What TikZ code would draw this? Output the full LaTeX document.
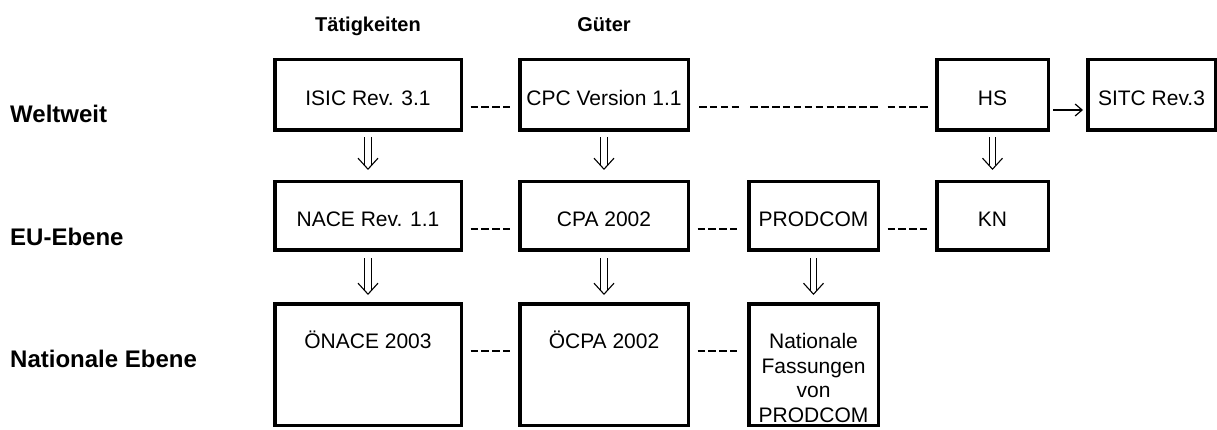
\documentclass[tikz,border=0pt]{standalone}
\usepackage{fontspec}
\setmainfont{Liberation Sans}
\usetikzlibrary{arrows.meta}
\begin{document}
\begin{tikzpicture}[x=1pt,y=-1pt,
  box/.style={draw, line width=3.5pt, inner sep=0pt, align=center,
    font=\fontsize{21}{24.5}\selectfont},
  rowA/.style={minimum height=70.5pt, text height=22pt, text depth=0pt},
  rowB/.style={minimum height=68.5pt, text height=22pt, text depth=0pt},
  rowC/.style={minimum height=121.5pt, text height=15pt, text depth=47pt},
  colA/.style={minimum width=186.5pt},
  colB/.style={minimum width=168.5pt},
  colC/.style={minimum width=129.5pt},
  colD/.style={minimum width=111.5pt},
  colE/.style={minimum width=127.5pt},
  hdr/.style={font=\bfseries\fontsize{20}{24}\selectfont, inner sep=0pt, anchor=base},
  rowlbl/.style={font=\bfseries\fontsize{24}{28}\selectfont, inner sep=0pt, anchor=base west},
  dl/.style={line width=2.2pt, dash pattern=on 7.5pt off 3.4pt},
  dshaft/.style={double, double distance=5.5pt, line width=1.1pt},
  dhead/.style={draw=white, line width=0.4pt,
    -{Straight Barb[black, line width=1.1pt, length=11pt, width=20pt]}},
  sgl/.style={line width=1.2pt, -{Straight Barb[length=7pt,width=12pt]}}
]
\useasboundingbox (0,0) rectangle (1217,430);

% headers
\node[hdr] (taet) at (368,32) {Tätigkeiten};
\node[hdr] (gueter) at (604,32) {Güter};

% row labels
\node[rowlbl] (welt) at (10,123) {Weltweit};
\node[rowlbl] (eu) at (10,246) {EU-Ebene};
\node[rowlbl] (nat) at (10,367) {Nationale Ebene};

% row 1
\node[box,rowA,colA] (isic) at (368,95) {ISIC Rev. 3.1};
\node[box,rowA,colB] (cpc) at (604,95) {CPC Version 1.1};
\node[box,rowA,colD] (hs) at (992.5,95) {HS};
\node[box,rowA,colE] (sitc) at (1151.5,95) {SITC Rev.3};

% row 2
\node[box,rowB,colA] (nace) at (368,216) {NACE Rev. 1.1};
\node[box,rowB,colB] (cpa) at (604,216) {CPA 2002};
\node[box,rowB,colC] (prodcom) at (813.5,216) {PRODCOM};
\node[box,rowB,colD] (kn) at (992.5,216) {KN};

% row 3
\node[box,rowC,colA] (onace) at (368,364.5) {ÖNACE 2003};
\node[box,rowC,colB] (ocpa) at (604,364.5) {ÖCPA 2002};
\node[box,rowC,colC,text width=129.5pt] (natp) at (813.5,364.5) {Nationale\\Fassungen\\von\\PRODCOM};

% dashed links row 1
\draw[dl, shorten <=7.5pt, shorten >=7.6pt] ([yshift=-12pt]isic.east) -- ([yshift=-12pt]cpc.west);
\draw[line width=2.2pt, shorten <=9pt, shorten >=7pt,
  dash pattern=on 7.5pt off 3.4pt on 7.5pt off 3.4pt on 7.5pt off 3.4pt on 7.5pt off 11pt
  on 7.5pt off 3.4pt on 7.5pt off 3.4pt on 7.5pt off 3.4pt on 7.5pt off 3.4pt
  on 7.5pt off 3.4pt on 7.5pt off 3.4pt on 7.5pt off 3.4pt on 7.5pt off 3.4pt
  on 7.5pt off 3.4pt on 7.5pt off 3.4pt on 7.5pt off 3.4pt on 7.5pt off 10pt
  on 7.5pt off 3.4pt on 7.5pt off 3.4pt on 7.5pt off 3.4pt on 7.5pt off 100pt]
  ([yshift=-12pt]cpc.east) -- ([yshift=-12pt]hs.west);

% dashed links row 2
\draw[dl, shorten <=7.5pt, shorten >=7.6pt] ([yshift=-13pt]nace.east) -- ([yshift=-13pt]cpa.west);
\draw[dl, shorten <=7.5pt, shorten >=9.6pt] ([yshift=-13pt]cpa.east) -- ([yshift=-13pt]prodcom.west);
\draw[dl, shorten <=7.5pt, shorten >=7.6pt] ([yshift=-13pt]prodcom.east) -- ([yshift=-13pt]kn.west);

% dashed links row 3
\draw[dl, shorten <=7.5pt, shorten >=7.6pt] ([yshift=13.5pt]onace.east) -- ([yshift=13.5pt]ocpa.west);
\draw[dl, shorten <=7.5pt, shorten >=9.6pt] ([yshift=13.5pt]ocpa.east) -- ([yshift=13.5pt]natp.west);

% arrow HS -> SITC
\draw[sgl, shorten <=3pt, shorten >=3pt] ([yshift=-15pt]hs.east) -- ([yshift=-15pt]sitc.west);

% double arrows (shaft + open head)
\draw[dshaft, shorten <=5pt, shorten >=14.5pt] (isic) -- (nace);
\draw[dhead, shorten <=5pt, shorten >=10pt] (isic) -- (nace);
\draw[dshaft, shorten <=5pt, shorten >=14.5pt] (cpc) -- (cpa);
\draw[dhead, shorten <=5pt, shorten >=10pt] (cpc) -- (cpa);
\draw[dshaft, shorten <=5pt, shorten >=14.5pt] (hs) -- (kn);
\draw[dhead, shorten <=5pt, shorten >=10pt] (hs) -- (kn);
\draw[dshaft, shorten <=6pt, shorten >=11.5pt] (nace) -- (onace);
\draw[dhead, shorten <=6pt, shorten >=7pt] (nace) -- (onace);
\draw[dshaft, shorten <=6pt, shorten >=11.5pt] (cpa) -- (ocpa);
\draw[dhead, shorten <=6pt, shorten >=7pt] (cpa) -- (ocpa);
\draw[dshaft, shorten <=6pt, shorten >=11.5pt] (prodcom) -- (natp);
\draw[dhead, shorten <=6pt, shorten >=7pt] (prodcom) -- (natp);
\end{tikzpicture}
\end{document}
